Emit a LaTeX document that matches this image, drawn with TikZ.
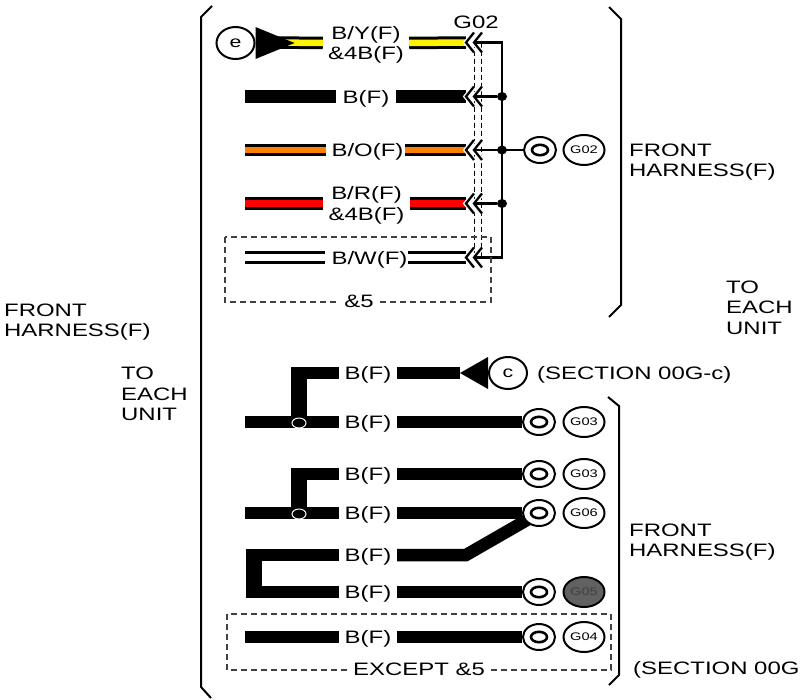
\documentclass[tikz,border=0pt]{standalone}
\usepackage{fontspec}
\usetikzlibrary{positioning,shapes.geometric,backgrounds}
\newfontfamily\harnessfont[FakeStretch=1.33]{Liberation Sans}

\tikzset{
  chev/.pic={
    \draw[white,line width=5] (8,-10) -- (0,0) -- (8,10);
    \draw[white,line width=5] (16,-10) -- (8,0) -- (16,10);
    \draw[line width=2.3] (8,-10) -- (0,0) -- (8,10);
    \draw[line width=2.3] (16,-10) -- (8,0) -- (16,10);
  }
}

\begin{document}
\begin{tikzpicture}[x=1pt,y=-1pt,
    every node/.style={inner sep=0pt,text depth=0pt,font=\harnessfont\fontsize{18}{20.5}\selectfont},
    wire/.style={line width=12.5},
    wirev/.style={line width=16},
    core/.style={line width=6.5,draw=#1},
    lab/.style={minimum width=#1,align=center},
    txt/.style={anchor=west,align=left},
    ring/.style={ellipse,draw,line width=2,fill=white,minimum width=32,minimum height=26,
      path picture={\draw[line width=2.6] (path picture bounding box.center) ellipse (8 and 5.2);}},
    tag/.style={ellipse,draw,line width=2,fill=white,minimum width=41,minimum height=30,
      font=\harnessfont\fontsize{11}{11}\selectfont},
    end/.style={ellipse,draw,line width=2,fill=white,minimum width=38,minimum height=32},
    dot/.style={ellipse,fill,minimum width=10,minimum height=9},
    joint/.style={ellipse,draw=white,line width=1,fill=black,minimum width=14,minimum height=10},
    bus/.style={line width=2.4},
    dbox/.style={draw=black!75,line width=1.1,dash pattern=on 6pt off 4pt},
    hull/.style={line width=2}]
\useasboundingbox (0,0) rectangle (800,699);

\draw[hull] (212,6) -- (201,17) -- (201,687) -- (211,698);
\draw[hull] (609,7) -- (621,19) -- (621,305) -- (609,317);
\draw[hull] (608,397) -- (619,406) -- (619,675) -- (609,685);

\node[txt] (front0) at (4,320) {FRONT\\HARNESS(F)};
\node[txt] (each0) at (121,394) {TO\\EACH\\UNIT};
\node[txt] (front1) at (629,160) {FRONT\\HARNESS(F)};
\node[txt] (each1) at (726,307.5) {TO\\EACH\\UNIT};
\node[txt] (front2) at (629,540) {FRONT\\HARNESS(F)};
\node[txt] (sec0) at (537,373) {(SECTION 00G-c)};
\node[txt] (sec1) at (633,668) {(SECTION 00G};
\node (g02) at (476,22) {G02};

% upper block
\node[lab=86] (by) at (366,43) {B/Y(F)\\\&4B(F)};
\node[lab=60] (b) at (366,96.5) {B(F)};
\node[lab=79] (bo) at (365.5,150) {\hspace*{4pt}B/O(F)};
\node[lab=87] (br) at (366.5,203.5) {B/R(F)\\\&4B(F)};
\node[lab=83] (bw) at (366.5,257.5) {\hspace*{6pt}B/W(F)};

\node[end] (e) at (235.5,43) {\fontsize{16}{16}\selectfont e};
\coordinate (eout) at (275,42.5);
\coordinate (a1) at (245,96.5);
\coordinate (a2) at (245,150);
\coordinate (a3) at (245,203.5);
\coordinate (a4) at (245,257.5);
\coordinate (g1) at (466,42.5);
\coordinate (g2) at (466,96.5);
\coordinate (g3) at (466,150);
\coordinate (g4) at (466,203.5);
\coordinate (g5) at (466,257.5);
\coordinate (h1) at (474,42.5);
\coordinate (h2) at (474,96.5);
\coordinate (h3) at (474,150);
\coordinate (h4) at (474,203.5);
\coordinate (h5) at (474,257.5);
\node[ring] (r02) at (540,150) {};
\node[tag] (t02) at (584,150) {G02};
\node[dot] (d2) at (502,96.5) {};
\node[dot] (d3) at (502,150) {};
\node[dot] (d4) at (502,203.5) {};

\begin{scope}[on background layer]
\draw[wire] (eout) -- (by.west);
\draw[core=yellow] (eout) -- (by.west);
\draw[wire] (by.east) -- (g1);
\draw[core=yellow] (by.east) -- (g1);
\draw[wire] (a1) -- (b.west);
\draw[wire] (b.east) -- (g2);
\draw[wire] (a2) -- (bo.west);
\draw[core=orange] (a2) -- (bo.west);
\draw[wire] (bo.east) -- (g3);
\draw[core=orange] (bo.east) -- (g3);
\draw[wire] (a3) -- (br.west);
\draw[core=red] (a3) -- (br.west);
\draw[wire] (br.east) -- (g4);
\draw[core=red] (br.east) -- (g4);
\draw[wire] (a4) -- (bw.west);
\draw[core=white] (a4) -- (bw.west);
\draw[wire] (bw.east) -- (g5);
\draw[core=white] (bw.east) -- (g5);
\end{scope}

\fill ([yshift=16]e.east) -- ([yshift=-16]e.east) -- ([xshift=39]e.east) -- cycle;

\draw[dash pattern=on 5pt off 3pt,line width=1] ([xshift=8]g1) -- ([xshift=8]g5);
\draw[dash pattern=on 5pt off 3pt,line width=1] ([xshift=15]g1) -- ([xshift=15]g5);
\pic at (g1) {chev};
\pic at (g2) {chev};
\pic at (g3) {chev};
\pic at (g4) {chev};
\pic at (g5) {chev};

\draw[bus] (h1) -- ++(28,0) |- (h5);
\draw[bus] (h2) -- (d2);
\draw[bus] (h3) -- (r02);
\draw[bus] (h4) -- (d4);

\draw[dbox] (225,237) rectangle (491,302);
\node[fill=white,inner xsep=6pt] (and5) at (359,301) {\&5};

% lower block
\node[lab=58] (f1) at (368,373) {B(F)};
\node[lab=58] (f2) at (368,422) {B(F)};
\node[lab=58] (f3) at (368,474) {B(F)};
\node[lab=58] (f4) at (368,513) {B(F)};
\node[lab=58] (f5) at (368,555) {B(F)};
\node[lab=58] (f6) at (368,592) {B(F)};
\node[lab=58] (f7) at (368,637) {B(F)};

\node[end] (c) at (508,373) {\fontsize{16}{16}\selectfont c};
\node[ring] (r1) at (539,422) {};
\node[ring] (r2) at (539,474) {};
\node[ring] (r3) at (539,513) {};
\node[ring] (r4) at (539,592) {};
\node[ring] (r5) at (539,637) {};
\node[tag] (t1) at (584,422) {G03};
\node[tag] (t2) at (584,474) {G03};
\node[tag] (t3) at (584,513) {G06};
\node[tag,fill=black!62,text=black!75] (t4) at (584,592) {G05};
\node[tag] (t5) at (584,637) {G04};

\node[joint] (j1) at (299,423) {};
\node[joint] (j2) at (299,514) {};
\coordinate (k1) at (299,373);
\coordinate (k2) at (299,474);
\coordinate (k3) at (253.5,555);
\coordinate (k4) at (253.5,592);
\coordinate (k5) at (466,555);
\coordinate (s1) at (245,422);
\coordinate (s2) at (245,513);
\coordinate (s3) at (245,637);
\coordinate (tip) at (460,373);

\begin{scope}[on background layer]
\draw[wirev] (j1.center) -- ([yshift=6]k1);
\draw[wire] ([xshift=-8]k1) -- (f1.west);
\draw[wire] (f1.east) -- (tip);
\draw[wire] (s1) -- (f2.west);
\draw[wire] (f2.east) -- (r1);
\draw[wirev] (j2.center) -- ([yshift=6]k2);
\draw[wire] ([xshift=-8]k2) -- (f3.west);
\draw[wire] (f3.east) -- (r2);
\draw[wire] (s2) -- (f4.west);
\draw[wire] (f4.east) -- (r3);
\draw[wirev] ([yshift=6]k3) -- ([yshift=-6]k4);
\draw[wire] ([xshift=-8]k3) -- (f5.west);
\draw[wire] ([xshift=-8]k4) -- (f6.west);
\draw[wire] (f5.east) -- (k5) -- (r3.center);
\draw[wire] (f6.east) -- (r4);
\draw[wire] (s3) -- (f7.west);
\draw[wire] (f7.east) -- (r5);
\end{scope}

\fill (tip) -- ([yshift=16]c.west) -- ([yshift=-16]c.west) -- cycle;

\draw[dbox] (227,614) rectangle (611,670);
\node[fill=white,inner xsep=3pt] (exc) at (419,669) {EXCEPT \&5};
\end{tikzpicture}
\end{document}
